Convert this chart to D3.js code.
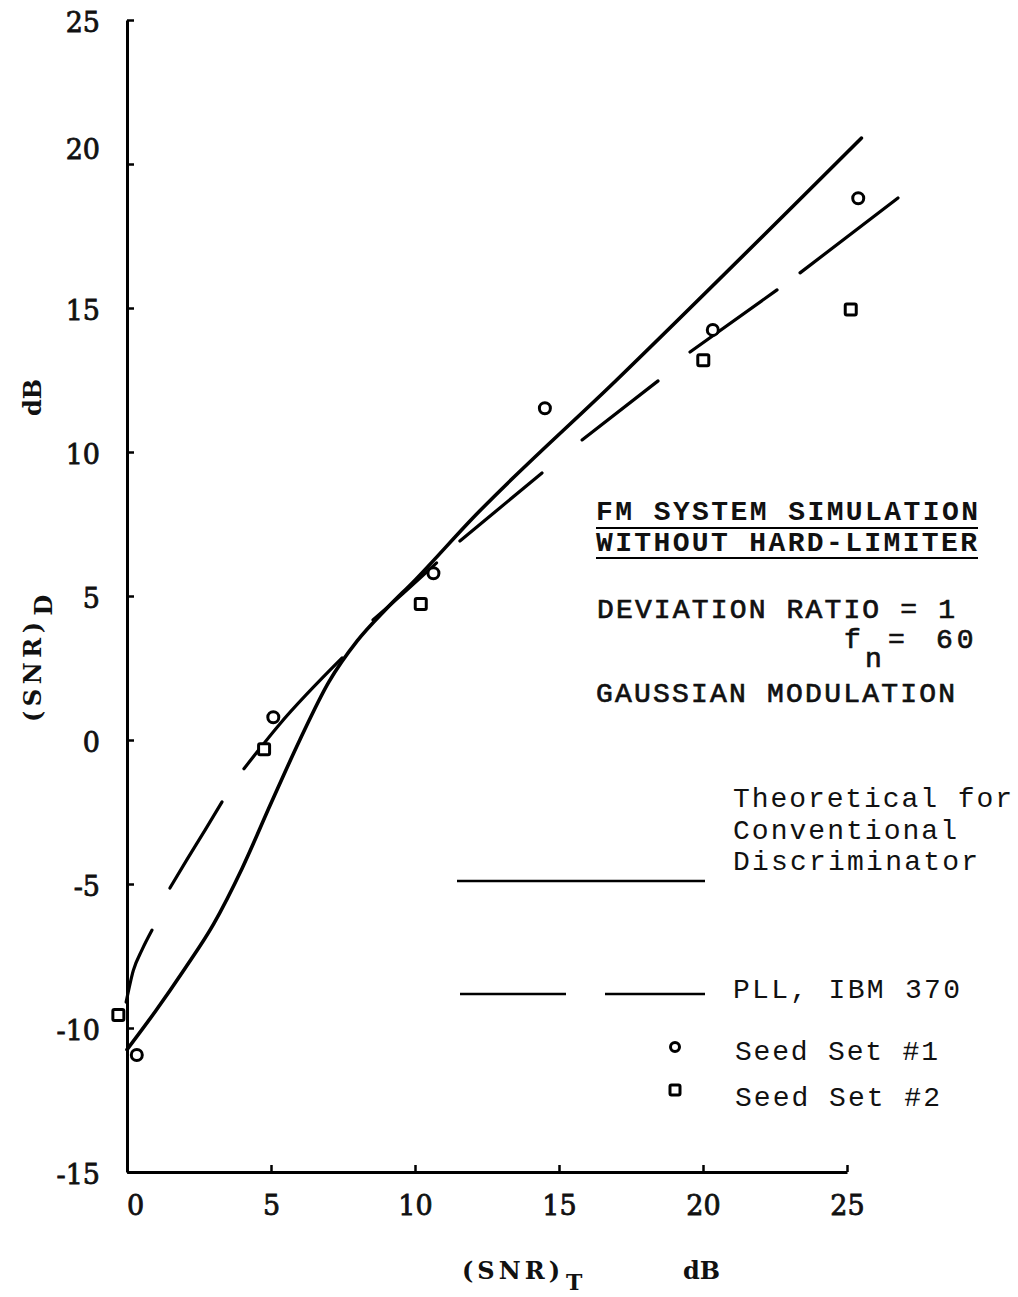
<!DOCTYPE html>
<html>
<head>
<meta charset="utf-8">
<script src="https://cdn.jsdelivr.net/npm/d3@7"></script>
<style>
  body { margin: 0; background: #fff; }
  svg { display: block; }
</style>
</head>
<body>
<svg id="chart" width="1018" height="1297"></svg>
<script>
// Axis ticks
const xTicks = [0, 5, 10, 15, 20, 25];
const yTicks = [-15, -10, -5, 0, 5, 10, 15, 20, 25];

// Theoretical curve for a conventional discriminator: (SNR)_T -> (SNR)_D, dB
const theoSnrT = [0, 1, 2, 3, 4, 5, 6, 7, 8, 9, 10, 12, 17, 25.5];
const theoSnrD = [-10.75, -9.4, -7.95, -6.4, -4.45, -2.2, 0.0, 2.0, 3.45, 4.55, 5.55, 7.7, 12.5, 20.9];

// PLL (IBM 370) curve, drawn as separate long dashes; each dash is a list of [SNR_T, SNR_D]
const pllDashes = [
  [[-0.03, -9.1], [0.22, -8.0], [0.52, -7.29], [0.87, -6.6]],
  [[1.49, -5.14], [2.07, -4.17], [2.71, -3.13], [3.3, -2.15]],
  [[4.06, -1.0], [5.3, 0.55], [7.47, 2.85]],
  [[8.54, 4.17], [9.6, 5.1], [10.75, 6.15]],
  [[11.56, 6.91], [14.41, 9.27]],
  [[15.8, 10.42], [18.44, 12.47]],
  [[19.55, 13.47], [22.57, 15.63]],
  [[23.37, 16.22], [26.77, 18.82]]
];

// Simulation results
const seed1T = [0.34, 5.08, 10.64, 14.51, 20.34, 25.39];
const seed1D = [-10.94, 0.79, 5.79, 11.52, 14.24, 18.81];
const seed2T = [-0.3, 4.76, 10.2, 20.01, 25.13];
const seed2D = [-9.55, -0.32, 4.72, 13.19, 14.95];

const svg = d3.select("#chart");
const serif = "'DejaVu Serif', serif";
const mono = "'Liberation Mono', 'DejaVu Sans Mono', monospace";
const ink = "#111";

const x = d3.scaleLinear().domain([0, 25]).range([127, 847]);
const y = d3.scaleLinear().domain([-15, 25]).range([1172, 20]);

// ---- axes ----
const xAxis = svg.append("g")
  .attr("transform", `translate(0,${y(-15)})`)
  .call(d3.axisBottom(x).tickValues(xTicks).tickSizeInner(-7).tickSizeOuter(0)
    .tickFormat(d => String(d)));
xAxis.select(".domain").attr("stroke", "#000").attr("stroke-width", 3);
xAxis.selectAll(".tick line").attr("stroke", "#000").attr("stroke-width", 2.5);
xAxis.selectAll(".tick text")
  .attr("y", 43).attr("dy", 0)
  .attr("dx", d => d === 0 ? 8 : 0)
  .attr("font-family", serif).attr("font-size", 27)
  .attr("fill", ink).attr("stroke", ink).attr("stroke-width", 0.8);

const yAxis = svg.append("g")
  .attr("transform", `translate(${x(0)},0)`)
  .call(d3.axisLeft(y).tickValues(yTicks).tickSizeInner(-7).tickSizeOuter(0)
    .tickFormat(d => String(d)));
yAxis.select(".domain").attr("stroke", "#000").attr("stroke-width", 3);
yAxis.selectAll(".tick line").attr("stroke", "#000").attr("stroke-width", 2.5);
yAxis.selectAll(".tick text")
  .attr("x", -27).attr("dy", d => d === 20 ? -6 : 11)
  .attr("font-family", serif).attr("font-size", 27)
  .attr("fill", ink).attr("stroke", ink).attr("stroke-width", 0.8);

// ---- axis titles ----
const yTitle = svg.append("text")
  .attr("transform", "translate(41,722) rotate(-90)")
  .attr("font-family", serif).attr("font-size", 24).attr("font-weight", "bold")
  .attr("fill", ink);
yTitle.append("tspan").text("(SNR)").attr("textLength", 100).attr("lengthAdjust", "spacing");
yTitle.append("tspan").text("D").attr("dy", 11).attr("dx", 2);

svg.append("text")
  .attr("transform", "translate(41,416) rotate(-90)")
  .attr("font-family", serif).attr("font-size", 24).attr("font-weight", "bold")
  .attr("fill", ink)
  .text("dB");

const xTitle = svg.append("text")
  .attr("x", 462).attr("y", 1279)
  .attr("font-family", serif).attr("font-size", 24).attr("font-weight", "bold")
  .attr("fill", ink);
xTitle.append("tspan").text("(SNR)").attr("textLength", 98).attr("lengthAdjust", "spacing");
xTitle.append("tspan").text("T").attr("dy", 11).attr("dx", 2).attr("font-size", 22);

svg.append("text")
  .attr("x", 683).attr("y", 1279)
  .attr("font-family", serif).attr("font-size", 24).attr("font-weight", "bold")
  .attr("fill", ink)
  .text("dB");

// ---- curves ----
const theoLine = d3.line()
  .x(d => x(d[0])).y(d => y(d[1]))
  .curve(d3.curveMonotoneX);

svg.append("path")
  .datum(theoSnrT.map((t, i) => [t, theoSnrD[i]]))
  .attr("d", theoLine)
  .attr("fill", "none").attr("stroke", "#000")
  .attr("stroke-width", 3.6).attr("stroke-linecap", "round");

const dashLine = d3.line()
  .x(d => x(d[0])).y(d => y(d[1]))
  .curve(d3.curveMonotoneX);

svg.append("g").selectAll("path")
  .data(pllDashes)
  .join("path")
  .attr("d", dashLine)
  .attr("fill", "none").attr("stroke", "#000")
  .attr("stroke-width", 3.2).attr("stroke-linecap", "round");

// ---- simulated points ----
svg.append("g").selectAll("circle")
  .data(seed1T.map((t, i) => [t, seed1D[i]]))
  .join("circle")
  .attr("cx", d => x(d[0])).attr("cy", d => y(d[1]))
  .attr("r", 5.5)
  .attr("fill", "#fff").attr("stroke", "#000").attr("stroke-width", 3);

const sq = 11;
svg.append("g").selectAll("rect")
  .data(seed2T.map((t, i) => [t, seed2D[i]]))
  .join("rect")
  .attr("x", d => x(d[0]) - sq / 2).attr("y", d => y(d[1]) - sq / 2)
  .attr("width", sq).attr("height", sq).attr("rx", 1.5)
  .attr("fill", "#fff").attr("stroke", "#000").attr("stroke-width", 3);

// ---- annotation block ----
const note = svg.append("g")
  .attr("font-family", mono).attr("font-size", 28).attr("fill", ink);

function typed(txt, x0, yb, len, weight) {
  const t = note.append("text")
    .attr("x", x0).attr("y", yb)
    .attr("font-weight", weight === "bold" ? "bold" : "normal")
    .text(txt);
  if (len) t.attr("textLength", len).attr("lengthAdjust", "spacing");
  if (weight === "medium") t.attr("stroke", ink).attr("stroke-width", 0.7);
  return t;
}

typed("FM SYSTEM SIMULATION", 596, 520, 382, "bold");
typed("WITHOUT HARD-LIMITER", 596, 551, 381, "bold");
note.append("line").attr("x1", 596).attr("x2", 978).attr("y1", 528).attr("y2", 528)
  .attr("stroke", "#000").attr("stroke-width", 2.2);
note.append("line").attr("x1", 596).attr("x2", 978).attr("y1", 558).attr("y2", 558)
  .attr("stroke", "#000").attr("stroke-width", 2.2);

typed("DEVIATION RATIO = 1", 597, 618, 358, "medium");
typed("f", 844, 648, null, "medium");
typed("n", 865, 667, null, "medium");
typed("=", 888, 648, null, "medium");
typed("60", 936, 648, null, "medium").attr("letter-spacing", 4);
typed("GAUSSIAN MODULATION", 596, 702, 359, "medium");

// ---- legend ----
typed("Theoretical for", 733, 807, 279, "normal");
typed("Conventional", 733, 839, 224, "normal");
typed("Discriminator", 733, 870, 245, "normal");
typed("PLL, IBM 370", 733, 998, 227, "normal");
typed("Seed Set #1", 735, 1060, 203, "normal");
typed("Seed Set #2", 735, 1106, 205, "normal");

const legend = svg.append("g").attr("stroke", "#000").attr("stroke-width", 2.6);
legend.append("line").attr("x1", 457).attr("x2", 705).attr("y1", 881).attr("y2", 881);
legend.append("line").attr("x1", 460).attr("x2", 566).attr("y1", 994).attr("y2", 994);
legend.append("line").attr("x1", 605).attr("x2", 705).attr("y1", 994).attr("y2", 994);
legend.append("circle").attr("cx", 675).attr("cy", 1047).attr("r", 4.5)
  .attr("fill", "#fff").attr("stroke-width", 3);
legend.append("rect").attr("x", 670).attr("y", 1085).attr("width", 10).attr("height", 10)
  .attr("rx", 1.5).attr("fill", "#fff").attr("stroke-width", 3);
</script>
</body>
</html>
